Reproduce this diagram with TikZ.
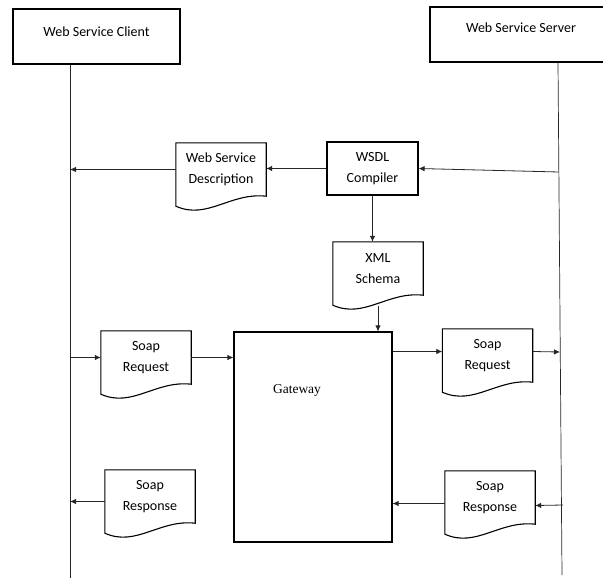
\documentclass[tikz,border=0pt]{standalone}
\usepackage{fontspec}
\setmainfont{Carlito}
\newfontfamily\timesfont{Liberation Serif}
\usetikzlibrary{arrows.meta,calc}
\tikzset{
 box/.style={draw, line width=1.1pt, rectangle, inner sep=0pt, align=center},
 docnode/.style={rectangle, inner sep=0pt, minimum width=90pt, minimum height=53pt, align=center},
 docline/.style={line width=1.1pt},
 conn/.style={line width=0.8pt, draw=black!85},
 arr/.style={conn, -{Latex[length=6pt,width=5.5pt]}},
 life/.style={line width=0.7pt, draw=black!85},
}
\newcommand{\docoutline}[1]{\draw[docline] (#1.north west) -- (#1.north east) -- (#1.south east) .. controls +(-36pt,4pt) and +(31.5pt,-14pt) .. ([yshift=-10pt]#1.south west) -- cycle;}
\begin{document}
\begin{tikzpicture}[x=1pt,y=-1pt,font=\fontsize{14}{21}\selectfont]
\useasboundingbox (0,0) rectangle (603,579);
% heads
\node[box, minimum width=167pt, minimum height=55pt, label={[yshift=4.5pt]center:Web Service Client}] (client) at (96.5,36.5) {};
\node[box, minimum width=182pt, minimum height=55pt, label={[yshift=6.5pt]center:Web Service Server}] (server) at (521,34.5) {};
% lifelines
\coordinate (cl) at (70,578);
\coordinate (st) at (558,62);
\coordinate (sl) at (562,575);
\draw[life] (client.south -| cl) -- (cl);
\draw[life] (st) -- (sl);
% documents and boxes
\node[docnode] (wsd) at (221,169.5) {Web Service\\Description};
\docoutline{wsd}
\node[box, minimum width=91pt, minimum height=53pt] (wsdl) at (372.5,168.5) {WSDL\\Compiler};
\node[docnode] (xml) at (378,268.5) {XML\\Schema};
\docoutline{xml}
\node[box, minimum width=158pt, minimum height=210pt, label={[xshift=-16pt,yshift=47pt,font=\timesfont\fontsize{13.5}{16}\selectfont]center:Gateway}] (gw) at (313,437) {};
\node[docnode] (sreqL) at (146,357.5) {Soap\\Request};
\docoutline{sreqL}
\node[docnode] (sreqR) at (487.5,355.5) {Soap\\Request};
\docoutline{sreqR}
\node[docnode] (sresL) at (150,496.5) {Soap\\Response};
\docoutline{sresL}
\node[docnode] (sresR) at (490,497.5) {Soap\\Response};
\docoutline{sresR}
% connectors
\coordinate (s1) at (559,172);
\draw[arr] (s1) -- (wsdl.east);
\draw[arr] (wsdl.west) -- (wsdl.west -| wsd.east);
\draw[arr] (wsd.west) -- (wsd.west -| cl);
\draw[arr] (wsdl.south) -- (wsdl.south |- xml.north);
\draw[arr] ([yshift=-11pt]xml.south) -- (xml.south |- gw.north);
\draw[arr] (sreqL.west -| cl) -- (sreqL.west);
\draw[arr] (sreqL.east) -- (sreqL.east -| gw.west);
\draw[arr] ([yshift=4pt]sreqR.west -| gw.east) -- ([yshift=4pt]sreqR.west);
\coordinate (s3) at (560,352);
\draw[arr] ([yshift=4pt]sreqR.east) -- (s3);
\coordinate (s4) at (563,505);
\draw[arr] (s4) -- ([yshift=-8pt]sresR.east);
\draw[arr] ([yshift=-6pt]sresR.west) -- ([yshift=-6pt]sresR.west -| gw.east);
\draw[arr] ([yshift=-5pt]sresL.west) -- ([yshift=-5pt]sresL.west -| cl);
\end{tikzpicture}
\end{document}
